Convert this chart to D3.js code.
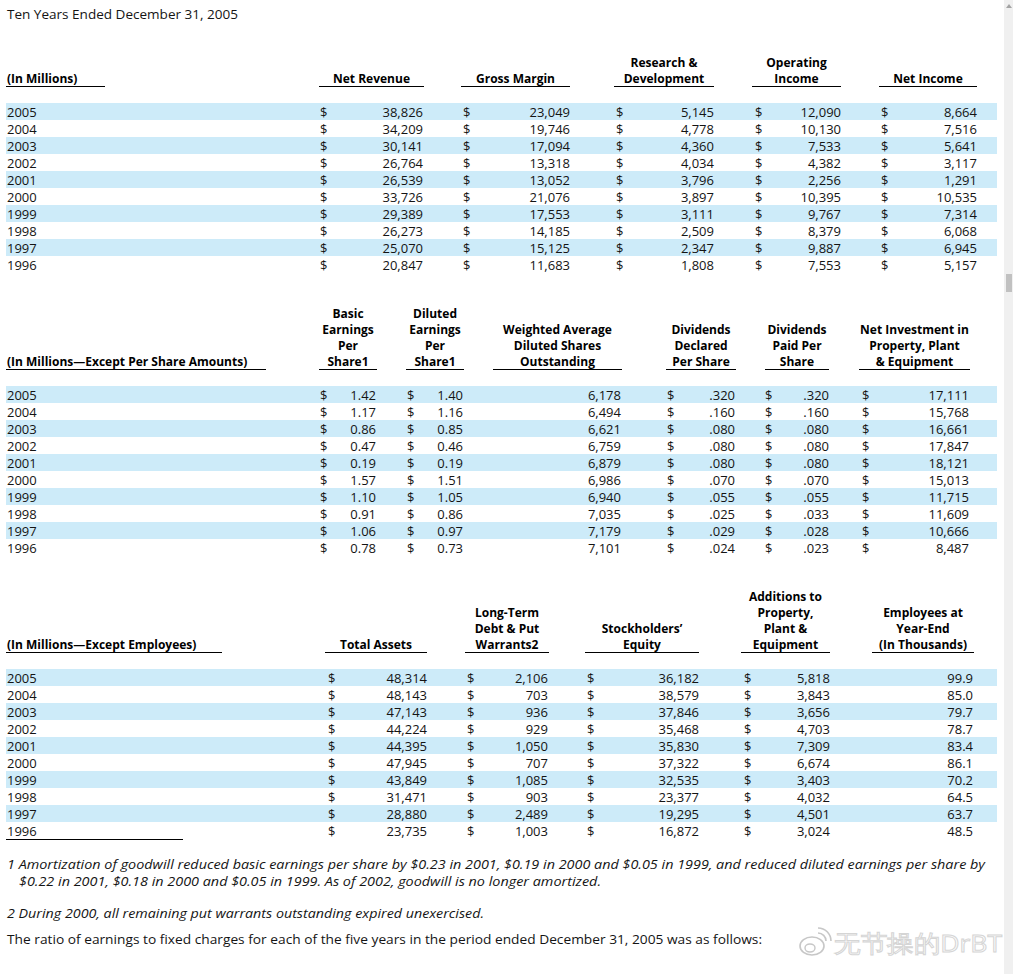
<!DOCTYPE html>
<html>
<head>
<meta charset="utf-8">
<script src="https://cdn.jsdelivr.net/npm/d3@7"></script>
<style>
  html, body { margin: 0; padding: 0; background: #fff; overflow: hidden; }
  svg { display: block; }
  text { font-family: "Open Sans", "Noto Sans", sans-serif; }
</style>
</head>
<body>
<svg id="chart" width="1013" height="974"></svg>
<script>
// ---------- DATA ----------
const years = [2005, 2004, 2003, 2002, 2001, 2000, 1999, 1998, 1997, 1996];

// Table 1 (In Millions)
const netRevenue      = [38826, 34209, 30141, 26764, 26539, 33726, 29389, 26273, 25070, 20847];
const grossMargin     = [23049, 19746, 17094, 13318, 13052, 21076, 17553, 14185, 15125, 11683];
const researchDev     = [5145, 4778, 4360, 4034, 3796, 3897, 3111, 2509, 2347, 1808];
const operatingIncome = [12090, 10130, 7533, 4382, 2256, 10395, 9767, 8379, 9887, 7553];
const netIncome       = [8664, 7516, 5641, 3117, 1291, 10535, 7314, 6068, 6945, 5157];

// Table 2 (In Millions—Except Per Share Amounts)
const basicEPS          = [1.42, 1.17, 0.86, 0.47, 0.19, 1.57, 1.10, 0.91, 1.06, 0.78];
const dilutedEPS        = [1.40, 1.16, 0.85, 0.46, 0.19, 1.51, 1.05, 0.86, 0.97, 0.73];
const dilutedShares     = [6178, 6494, 6621, 6759, 6879, 6986, 6940, 7035, 7179, 7101];
const dividendsDeclared = [0.320, 0.160, 0.080, 0.080, 0.080, 0.070, 0.055, 0.025, 0.029, 0.024];
const dividendsPaid     = [0.320, 0.160, 0.080, 0.080, 0.080, 0.070, 0.055, 0.033, 0.028, 0.023];
const netInvestmentPPE  = [17111, 15768, 16661, 17847, 18121, 15013, 11715, 11609, 10666, 8487];

// Table 3 (In Millions—Except Employees)
const totalAssets        = [48314, 48143, 47143, 44224, 44395, 47945, 43849, 31471, 28880, 23735];
const longTermDebt       = [2106, 703, 936, 929, 1050, 707, 1085, 903, 2489, 1003];
const stockholdersEquity = [36182, 38579, 37846, 35468, 35830, 37322, 32535, 23377, 19295, 16872];
const additionsPPE       = [5818, 3843, 3656, 4703, 7309, 6674, 3403, 4032, 4501, 3024];
const employees          = [99.9, 85.0, 79.7, 78.7, 83.4, 86.1, 70.2, 64.5, 63.7, 48.5];

// Text
const titleText = "Ten Years Ended December 31, 2005";
const stubLabels = ["(In Millions)", "(In Millions\u2014Except Per Share Amounts)", "(In Millions\u2014Except Employees)"];
const headers1 = [["Net Revenue"], ["Gross Margin"], ["Research &", "Development"], ["Operating", "Income"], ["Net Income"]];
const headers2 = [["Basic", "Earnings", "Per", "Share1"], ["Diluted", "Earnings", "Per", "Share1"],
                  ["Weighted Average", "Diluted Shares", "Outstanding"], ["Dividends", "Declared", "Per Share"],
                  ["Dividends", "Paid Per", "Share"], ["Net Investment in", "Property, Plant", "& Equipment"]];
const headers3 = [["Total Assets"], ["Long-Term", "Debt & Put", "Warrants2"], ["Stockholders\u2019", "Equity"],
                  ["Additions to", "Property,", "Plant &", "Equipment"], ["Employees at", "Year-End", "(In Thousands)"]];
const footnotes = [
  "1 Amortization of goodwill reduced basic earnings per share by $0.23 in 2001, $0.19 in 2000 and $0.05 in 1999, and reduced diluted earnings per share by",
  "$0.22 in 2001, $0.18 in 2000 and $0.05 in 1999. As of 2002, goodwill is no longer amortized.",
  "2 During 2000, all remaining put warrants outstanding expired unexercised."
];
const closingText = "The ratio of earnings to fixed charges for each of the five years in the period ended December 31, 2005 was as follows:";
const watermarkText = "\u65e0\u8282\u64cd\u7684DrBT";

// ---------- FORMATS ----------
const fmtInt = d3.format(",");
const fmtEPS = d3.format(".2f");
const fmtDiv = v => d3.format(".3f")(v).replace(/^0/, "");
const fmtEmp = d3.format(".1f");

// ---------- LAYOUT ----------
const W = 1013, H = 974;
const svg = d3.select("#chart");
const bandColor = "#cdebf9";
const textColor = "#141414";

const tables = [
  { headerBase: 83, bandTop: 103, stubRule: [6, 105], stub: stubLabels[0],
    cols: [
      { head: headers1[0], vals: netRevenue, fmt: fmtInt, dollar: 320, right: 423, rule: [319, 424] },
      { head: headers1[1], vals: grossMargin, fmt: fmtInt, dollar: 463, right: 570, rule: [461, 570] },
      { head: headers1[2], vals: researchDev, fmt: fmtInt, dollar: 616, right: 714, rule: [614, 714] },
      { head: headers1[3], vals: operatingIncome, fmt: fmtInt, dollar: 755, right: 841, rule: [752, 841] },
      { head: headers1[4], vals: netIncome, fmt: fmtInt, dollar: 881, right: 977, rule: [879, 977] }
    ] },
  { headerBase: 366, bandTop: 386, stubRule: [6, 266], stub: stubLabels[1],
    cols: [
      { head: headers2[0], vals: basicEPS, fmt: fmtEPS, dollar: 320, right: 376, rule: [319, 377] },
      { head: headers2[1], vals: dilutedEPS, fmt: fmtEPS, dollar: 407, right: 463, rule: [406, 464] },
      { head: headers2[2], vals: dilutedShares, fmt: fmtInt, dollar: null, right: 621, rule: [493, 622] },
      { head: headers2[3], vals: dividendsDeclared, fmt: fmtDiv, dollar: 667, right: 735, rule: [666, 736] },
      { head: headers2[4], vals: dividendsPaid, fmt: fmtDiv, dollar: 765, right: 829, rule: [765, 829] },
      { head: headers2[5], vals: netInvestmentPPE, fmt: fmtInt, dollar: 862, right: 969, rule: [859, 970] }
    ] },
  { headerBase: 649, bandTop: 669, stubRule: [6, 222], stub: stubLabels[2], bottomRule: [6, 183],
    cols: [
      { head: headers3[0], vals: totalAssets, fmt: fmtInt, dollar: 328, right: 427, rule: [325, 427] },
      { head: headers3[1], vals: longTermDebt, fmt: fmtInt, dollar: 467, right: 548, rule: [465, 549] },
      { head: headers3[2], vals: stockholdersEquity, fmt: fmtInt, dollar: 587, right: 699, rule: [585, 699] },
      { head: headers3[3], vals: additionsPPE, fmt: fmtInt, dollar: 744, right: 830, rule: [741, 830] },
      { head: headers3[4], vals: employees, fmt: fmtEmp, dollar: null, right: 973, rule: [872, 974] }
    ] }
];

// Title
svg.append("text").attr("x", 7).attr("y", 19)
  .attr("font-size", 13.5).attr("fill", textColor)
  .attr("textLength", 231).attr("lengthAdjust", "spacingAndGlyphs").text(titleText);

tables.forEach(t => {
  const g = svg.append("g");
  const y = d3.scaleBand().domain(years).range([t.bandTop, t.bandTop + 17 * years.length]).padding(0);
  const bh = y.bandwidth();

  // zebra bands
  g.selectAll("rect.band").data(years.filter((d, i) => i % 2 === 0)).join("rect")
    .attr("class", "band").attr("x", 6).attr("width", 991)
    .attr("y", d => y(d)).attr("height", bh).attr("fill", bandColor);

  // stub header
  g.append("text").attr("x", 7).attr("y", t.headerBase)
    .attr("font-size", 12).attr("font-weight", 700).attr("fill", "#000").text(t.stub);
  g.append("line").attr("x1", t.stubRule[0]).attr("x2", t.stubRule[1])
    .attr("y1", t.headerBase + 3.5).attr("y2", t.headerBase + 3.5).attr("stroke", "#000").attr("stroke-width", 1.2);

  // years
  g.selectAll("text.year").data(years).join("text")
    .attr("class", "year").attr("x", 7).attr("y", d => y(d) + 13.5)
    .attr("font-size", 13).attr("fill", textColor).text(d => d);

  t.cols.forEach(c => {
    const cx = (c.rule[0] + c.rule[1]) / 2;
    const n = c.head.length;
    c.head.forEach((line, k) => {
      g.append("text").attr("x", cx).attr("y", t.headerBase - (n - 1 - k) * 16)
        .attr("text-anchor", "middle").attr("font-size", 12).attr("font-weight", 700)
        .attr("fill", "#000").text(line);
    });
    g.append("line").attr("x1", c.rule[0]).attr("x2", c.rule[1])
      .attr("y1", t.headerBase + 3.5).attr("y2", t.headerBase + 3.5).attr("stroke", "#000").attr("stroke-width", 1.2);

    if (c.dollar !== null) {
      g.selectAll(null).data(years).join("text")
        .attr("x", c.dollar).attr("y", d => y(d) + 13.5)
        .attr("font-size", 13).attr("fill", textColor).text("$");
    }
    g.selectAll(null).data(c.vals).join("text")
      .attr("x", c.right).attr("y", (v, i) => y(years[i]) + 13.5)
      .attr("text-anchor", "end").attr("font-size", 13).attr("fill", textColor)
      .text(v => c.fmt(v));
  });

  if (t.bottomRule) {
    const yb = t.bandTop + 17 * years.length + 0.5;
    g.append("line").attr("x1", t.bottomRule[0]).attr("x2", t.bottomRule[1])
      .attr("y1", yb).attr("y2", yb).attr("stroke", "#000").attr("stroke-width", 1);
  }
});

// Footnotes
const fn = svg.append("g").attr("font-size", 13).attr("font-style", "italic").attr("fill", textColor);
fn.append("text").attr("x", 7).attr("y", 869).attr("textLength", 978).attr("lengthAdjust", "spacingAndGlyphs").text(footnotes[0]);
fn.append("text").attr("x", 19).attr("y", 886).attr("textLength", 582).attr("lengthAdjust", "spacingAndGlyphs").text(footnotes[1]);
fn.append("text").attr("x", 7).attr("y", 918).attr("textLength", 477).attr("lengthAdjust", "spacingAndGlyphs").text(footnotes[2]);
svg.append("text").attr("x", 7).attr("y", 944).attr("font-size", 13).attr("fill", textColor)
  .attr("textLength", 755).attr("lengthAdjust", "spacingAndGlyphs").text(closingText);

// Watermark
const wm = svg.append("g").attr("opacity", 0.7);
wm.append("ellipse").attr("cx", 812).attr("cy", 946).attr("rx", 12).attr("ry", 9)
  .attr("fill", "#fff").attr("stroke", "#b0b0b0").attr("stroke-width", 1.6);
wm.append("ellipse").attr("cx", 810).attr("cy", 948).attr("rx", 5).attr("ry", 4)
  .attr("fill", "none").attr("stroke", "#b0b0b0").attr("stroke-width", 1.4);
wm.append("path").attr("d", "M818,933 a8,8 0 0 1 8,8 M818,928 a13,13 0 0 1 13,13")
  .attr("fill", "none").attr("stroke", "#b0b0b0").attr("stroke-width", 1.6);
wm.append("text").attr("x", 834).attr("y", 952).attr("font-size", 24)
  .attr("font-family", "'Noto Sans CJK SC', sans-serif")
  .attr("fill", "#fff").attr("stroke", "#c4c4c4").attr("stroke-width", 1)
  .attr("textLength", 168).attr("lengthAdjust", "spacingAndGlyphs").text(watermarkText);

// Scrollbar
svg.append("rect").attr("x", 1004).attr("y", 0).attr("width", 9).attr("height", H).attr("fill", "#f0f0f0");
svg.append("rect").attr("x", 1006).attr("y", 274).attr("width", 6).attr("height", 18).attr("fill", "#c1c1c1");
svg.append("path").attr("d", "M1006,8 L1009,4 L1012,8 Z").attr("fill", "#a3a3a3");
</script>
</body>
</html>
